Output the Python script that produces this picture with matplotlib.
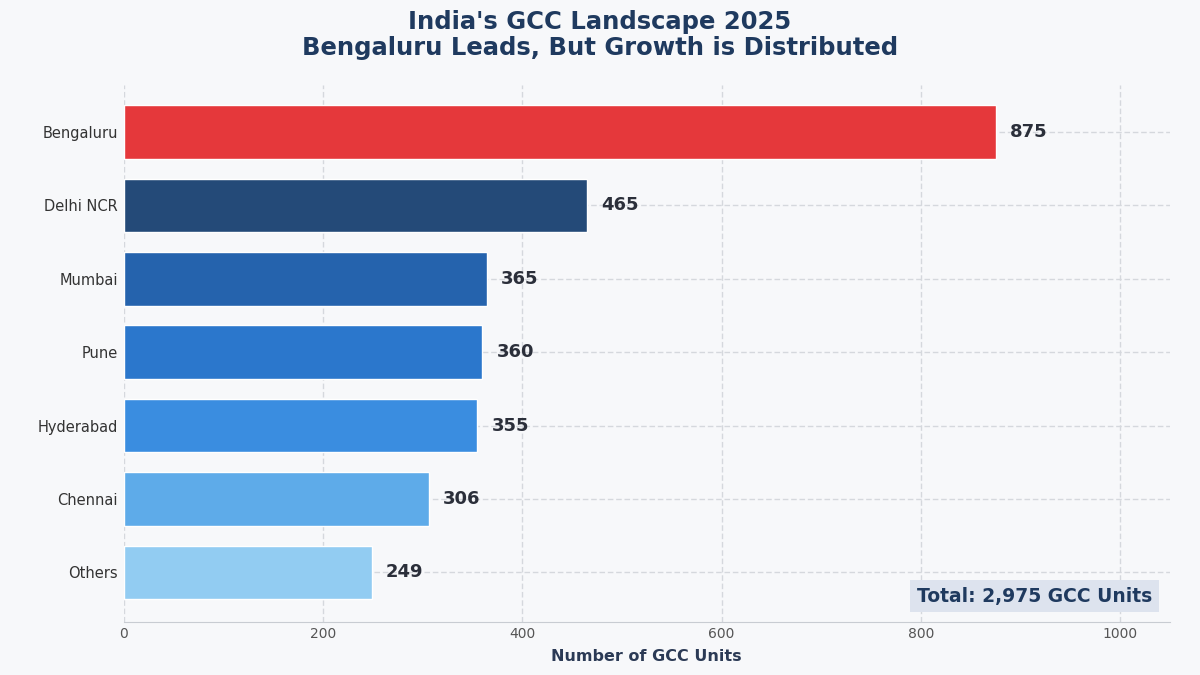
import matplotlib.pyplot as plt

cities = ['Bengaluru', 'Delhi NCR', 'Mumbai', 'Pune', 'Hyderabad', 'Chennai', 'Others']
units = [875, 465, 365, 360, 355, 306, 249]
colors = ['#e5383b', '#244a78', '#2563ad', '#2b77cc', '#3a8de0', '#5eabe9', '#92ccf2']

fig = plt.figure(figsize=(12, 6.75), dpi=100, facecolor='#f7f8fa')
ax = fig.add_axes([0.103, 0.079, 0.872, 0.795])
ax.set_facecolor('#f7f8fa')

ypos = range(len(cities))
ax.barh(ypos, units, height=0.73, color=colors, edgecolor='white', linewidth=1, zorder=3)
for y, v in zip(ypos, units):
    ax.text(v + 14, y, f'{v}', va='center', ha='left', fontsize=13, fontweight='bold', color='#2b2f3a')

ax.set_yticks(list(ypos))
ax.set_yticklabels(cities, fontsize=10.5, color='#333333')
ax.set_ylim(6.67, -0.64)
ax.set_xlim(0, 1050)
ax.set_xticks([0, 200, 400, 600, 800, 1000])
ax.tick_params(axis='x', labelsize=10, colors='#555555', length=0)
ax.tick_params(axis='y', length=0, pad=4)
ax.grid(True, color='#d5d8dd', linewidth=1, linestyle=(0, (4, 2)), zorder=0)
for s in ['top', 'right', 'left']:
    ax.spines[s].set_visible(False)
ax.spines['bottom'].set_color('#c8ccd2')

ax.set_xlabel('Number of GCC Units', fontsize=11.5, fontweight='bold', color='#2b3a55', labelpad=6)
fig.suptitle("India's GCC Landscape 2025\nBengaluru Leads, But Growth is Distributed",
             fontsize=17.5, fontweight='bold', color='#1f3a5f', y=0.985, linespacing=1.1)

ax.text(0.983, 0.03, 'Total: 2,975 GCC Units', transform=ax.transAxes, ha='right', va='bottom',
        fontsize=13.5, fontweight='bold', color='#1f3a5f',
        bbox=dict(boxstyle='square,pad=0.35', facecolor='#dde3ee', edgecolor='none'), zorder=5)

fig.savefig('out.png', dpi=100, facecolor=fig.get_facecolor())
